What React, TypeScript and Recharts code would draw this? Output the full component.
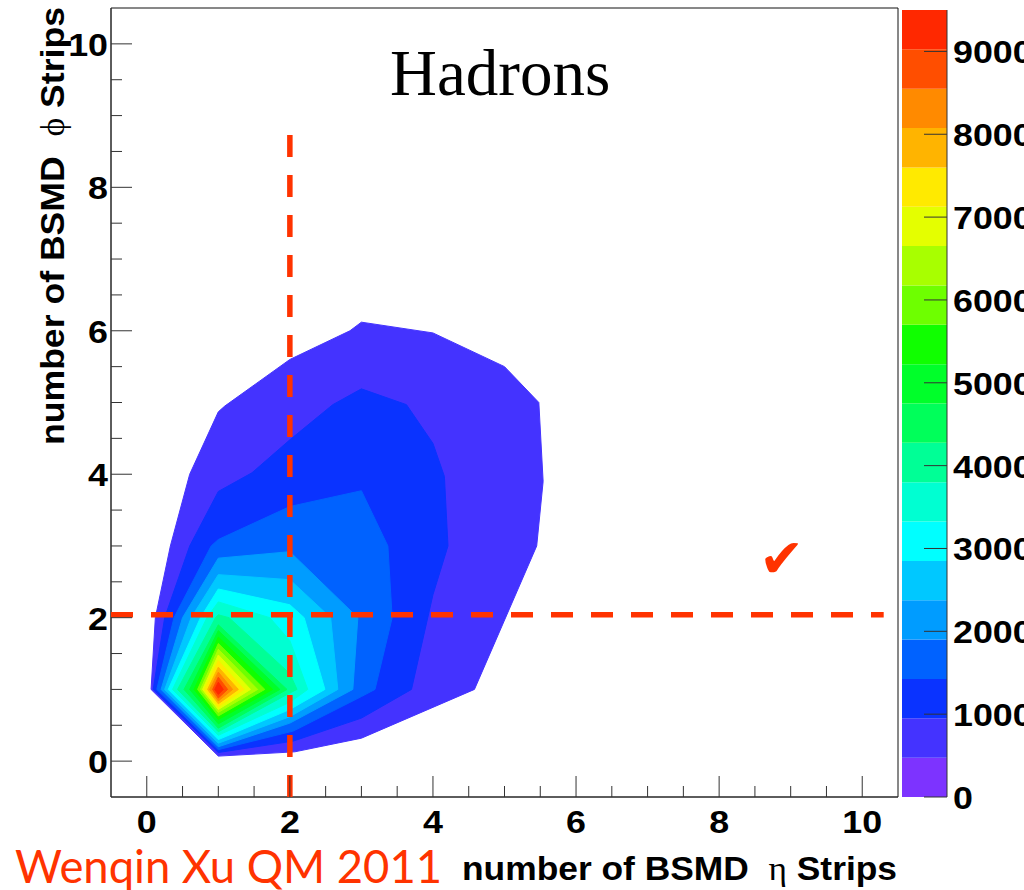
import React from 'react';
import { ScatterChart, Scatter, XAxis, YAxis, ReferenceArea, BarChart, Bar } from 'recharts';

// colour of each contour band, lowest (0) to highest (19)
const levelColors = [
  '#7d33ff', '#4433ff', '#0a33ff', '#0062ff', '#009cff',
  '#00c8ff', '#00ffff', '#00ffd2', '#00ff96', '#00ff5a',
  '#00ff2a', '#10ff00', '#6eff00', '#a8ff00', '#e4ff00',
  '#ffea00', '#ffb400', '#ff8a00', '#ff4e00', '#ff2800',
];
const levelStep = 475; // counts per contour band
const scaleTicks = [0, 1000, 2000, 3000, 4000, 5000, 6000, 7000, 8000, 9000];
const stripTicks = [
  0, 0.5, 1, 1.5, 2, 2.5, 3, 3.5, 4, 4.5, 5, 5.5, 6, 6.5, 7, 7.5, 8, 8.5, 9, 9.5, 10,
];

// contour outlines, [eta strips, phi strips], one per level above zero
const contour1 = [
  [0.06, 1.0], [0.12, 2.0], [0.33, 3.0], [0.6, 4.0], [1.0, 4.87], [1.09, 4.95],
  [2.0, 5.6], [2.84, 6.0], [3.0, 6.12], [4.0, 5.97], [5.0, 5.5], [5.48, 5.0],
  [5.54, 3.9], [5.45, 3.0], [4.58, 1.0], [3.0, 0.32], [2.07, 0.13], [1.0, 0.07],
];
const contour2 = [
  [0.09, 1.0], [0.25, 2.0], [0.6, 3.0], [1.0, 3.76], [1.47, 4.02], [2.0, 4.48],
  [2.6, 4.97], [3.0, 5.19], [3.63, 4.97], [4.0, 4.43], [4.16, 3.97], [4.21, 3.0],
  [4.0, 2.32], [3.7, 1.0], [3.0, 0.6], [2.05, 0.28], [1.0, 0.12],
];
const contour3 = [
  [0.14, 1.0], [0.38, 2.0], [0.9, 3.0], [1.0, 3.09], [2.0, 3.55], [3.0, 3.77],
  [3.37, 3.0], [3.43, 2.0], [3.19, 1.0], [3.0, 0.9], [2.05, 0.42], [1.0, 0.16],
];
const contour4 = [
  [0.2, 1.0], [0.5, 2.0], [1.0, 2.83], [2.0, 2.92], [2.95, 2.0], [2.88, 1.0],
  [2.0, 0.53], [1.0, 0.2],
];
const contour5 = [
  [0.25, 1.0], [0.62, 2.0], [1.0, 2.6], [2.0, 2.53], [2.57, 2.0], [2.67, 1.0],
  [2.0, 0.62], [1.0, 0.25],
];
const contour6 = [
  [0.3, 1.0], [0.75, 2.0], [1.0, 2.4], [2.0, 2.18], [2.2, 2.0], [2.49, 1.0],
  [2.0, 0.72], [1.0, 0.3],
];
const contour7 = [
  [0.36, 1.0], [0.84, 2.0], [1.0, 2.22], [1.72, 2.0], [2.0, 1.68], [2.25, 1.0],
  [2.0, 0.82], [1.0, 0.36],
];
const contour8 = [
  [0.43, 1.0], [0.96, 2.0], [1.0, 2.04], [1.15, 2.0], [2.0, 1.22], [2.1, 1.0],
  [2.0, 0.95], [1.0, 0.41],
];
const contour9 = [[0.52, 1.0], [1.0, 1.9], [1.96, 1.0], [1.0, 0.46]];
const contour10 = [[0.6, 1.0], [1.0, 1.82], [1.86, 1.0], [1.0, 0.52]];
const contour11 = [[0.66, 1.0], [1.0, 1.73], [1.76, 1.0], [1.0, 0.58]];
const contour12 = [[0.71, 1.0], [1.0, 1.64], [1.65, 1.0], [1.0, 0.63]];
const contour13 = [[0.75, 1.0], [1.0, 1.56], [1.55, 1.0], [1.0, 0.68]];
const contour14 = [[0.78, 1.0], [1.0, 1.48], [1.45, 1.0], [1.0, 0.72]];
const contour15 = [[0.81, 1.0], [1.0, 1.4], [1.36, 1.0], [1.0, 0.76]];
const contour16 = [[0.85, 1.0], [1.0, 1.31], [1.28, 1.0], [1.0, 0.8]];
const contour17 = [[0.88, 1.0], [1.0, 1.24], [1.2, 1.0], [1.0, 0.84]];
const contour18 = [[0.92, 1.0], [1.0, 1.17], [1.13, 1.0], [1.0, 0.88]];
const contour19 = [[0.95, 1.0], [1.0, 1.1], [1.07, 1.0], [1.0, 0.93]];

const contours = [
  contour1, contour2, contour3, contour4, contour5, contour6, contour7,
  contour8, contour9, contour10, contour11, contour12, contour13, contour14,
  contour15, contour16, contour17, contour18, contour19,
];

// dashed cut lines: eta = 2 and phi = 2
const etaCutLine = [{ x: 2, y: 8.73 }, { x: 2, y: -0.5 }];
const phiCutLine = [{ x: -0.5, y: 2.04 }, { x: 10.3, y: 2.04 }];

const ROOT_FONT = "'Liberation Sans', Arial, Helvetica, sans-serif";
const SYMBOL_FONT = "'Liberation Serif', 'DejaVu Serif', serif";
const RED = '#ff3300';
const AXIS = '#333';
const LABEL_SIZE = 32;
const LABEL_STRETCH = 'scale(1.12,1)';

const closed = (c: number[][]) => [...c, c[0]].map(([x, y]) => ({ x, y }));

const noSymbol = () => <g />;

const cutStyle = { stroke: RED, strokeWidth: 5.5, strokeDasharray: '22 18' };

const renderXTick = (props: any) => {
  const { x, y, payload } = props;
  const major = payload.value % 2 === 0;
  return (
    <g>
      <line x1={x} y1={y} x2={x} y2={y - (major ? 21 : 11)} stroke={AXIS} />
      {major && (
        <text
          transform={`translate(${x},${y + 36}) ${LABEL_STRETCH}`}
          textAnchor="middle"
          fontFamily={ROOT_FONT}
          fontWeight="bold"
          fontSize={LABEL_SIZE}
          fill="#000"
        >
          {payload.value}
        </text>
      )}
    </g>
  );
};

const renderYTick = (props: any) => {
  const { x, y, payload } = props;
  const major = payload.value % 2 === 0;
  return (
    <g>
      <line x1={x} y1={y} x2={x + (major ? 21 : 11)} y2={y} stroke={AXIS} />
      {major && (
        <text
          transform={`translate(${x - 3},${y + 12}) ${LABEL_STRETCH}`}
          textAnchor="end"
          fontFamily={ROOT_FONT}
          fontWeight="bold"
          fontSize={LABEL_SIZE}
          fill="#000"
        >
          {payload.value}
        </text>
      )}
    </g>
  );
};

const renderScaleTick = (props: any) => {
  const { x, y, payload } = props;
  return (
    <g>
      <line x1={x} y1={y} x2={x - 23} y2={y} stroke={AXIS} />
      <text
        transform={`translate(${x + 6},${y + 12}) ${LABEL_STRETCH}`}
        textAnchor="start"
        fontFamily={ROOT_FONT}
        fontWeight="bold"
        fontSize={LABEL_SIZE}
        fill="#000"
      >
        {payload.value}
      </text>
    </g>
  );
};

export default function App() {
  const bandRow: Record<string, any> = { name: 'z' };
  levelColors.forEach((_, i) => {
    bandRow[`b${i}`] = levelStep;
  });

  return (
    <div
      style={{
        position: 'absolute',
        left: 0,
        top: 0,
        width: 1024,
        height: 890,
        overflow: 'hidden',
        background: '#fff',
      }}
    >
      <div style={{ position: 'absolute', left: 0, top: 0 }}>
        <ScatterChart width={1024} height={890} margin={{ top: 8, right: 126, bottom: 0, left: 0 }}>
          <XAxis
            type="number"
            dataKey="x"
            domain={[-0.5, 10.5]}
            ticks={stripTicks}
            interval={0}
            height={93}
            tickSize={0}
            tickMargin={0}
            tickLine={false}
            axisLine={{ stroke: AXIS }}
            tick={renderXTick}
          />
          <YAxis
            type="number"
            dataKey="y"
            domain={[-0.5, 10.5]}
            ticks={stripTicks}
            interval={0}
            width={111}
            tickSize={0}
            tickMargin={0}
            tickLine={false}
            axisLine={{ stroke: AXIS }}
            tick={renderYTick}
          />
          <ReferenceArea x1={-0.5} x2={10.5} y1={-0.5} y2={10.5} fill="none" stroke="#111" strokeWidth={1} />
          {contours.map((c, i) => (
            <Scatter
              key={`level-${i + 1}`}
              data={closed(c)}
              fill={levelColors[i + 1]}
              line={{ fill: levelColors[i + 1], stroke: levelColors[i + 1], strokeWidth: 1 }}
              shape={noSymbol}
              isAnimationActive={false}
            />
          ))}
          <Scatter data={etaCutLine} fill={RED} line={cutStyle} shape={noSymbol} isAnimationActive={false} />
          <Scatter data={phiCutLine} fill={RED} line={cutStyle} shape={noSymbol} isAnimationActive={false} />
        </ScatterChart>
      </div>

      {/* colour scale */}
      <div style={{ position: 'absolute', left: 902, top: 0 }}>
        <BarChart
          width={122}
          height={890}
          data={[bandRow]}
          margin={{ top: 10, right: 0, bottom: 93, left: 0 }}
          barCategoryGap={0}
        >
          <XAxis dataKey="name" hide />
          <YAxis
            orientation="right"
            type="number"
            domain={[0, levelStep * levelColors.length]}
            ticks={scaleTicks}
            interval={0}
            width={77}
            tickSize={0}
            tickMargin={0}
            tickLine={false}
            axisLine={{ stroke: AXIS }}
            tick={renderScaleTick}
          />
          {levelColors.map((color, i) => (
            <Bar key={`b${i}`} dataKey={`b${i}`} stackId="z" fill={color} isAnimationActive={false} />
          ))}
        </BarChart>
      </div>

      <svg
        width={1024}
        height={890}
        style={{ position: 'absolute', left: 0, top: 0, pointerEvents: 'none' }}
      >
        <text x={390} y={95} fontFamily="'Liberation Serif', 'Times New Roman', serif" fontSize={65} fill="#000">
          Hadrons
        </text>
        <text
          x={462}
          y={880}
          textLength={435}
          lengthAdjust="spacingAndGlyphs"
          fontFamily={ROOT_FONT}
          fontWeight="bold"
          fontSize={34}
          fill="#000"
          style={{ whiteSpace: 'pre' }}
        >
          {'number of BSMD  '}
          <tspan fontFamily={SYMBOL_FONT} fontWeight="normal">η</tspan>
          {' Strips'}
        </text>
        <text
          transform="translate(64,445) rotate(-90)"
          textLength={438}
          lengthAdjust="spacingAndGlyphs"
          fontFamily={ROOT_FONT}
          fontWeight="bold"
          fontSize={34}
          fill="#000"
          style={{ whiteSpace: 'pre' }}
        >
          {'number of BSMD  '}
          <tspan fontFamily={SYMBOL_FONT} fontWeight="normal">ϕ</tspan>
          {' Strips'}
        </text>
        <text x={759} y={577} fontFamily="'DejaVu Sans', sans-serif" fontSize={54} fill={RED}>
          ✔
        </text>
        <text
          x={15}
          y={883}
          textLength={427}
          lengthAdjust="spacingAndGlyphs"
          fontFamily="Lato, 'Open Sans', sans-serif"
          fontSize={46}
          fill={RED}
        >
          Wenqin Xu QM 2011
        </text>
      </svg>
    </div>
  );
}
